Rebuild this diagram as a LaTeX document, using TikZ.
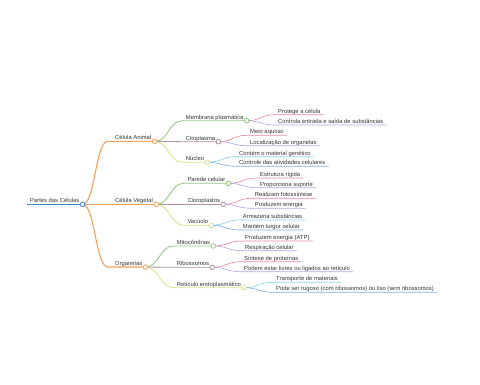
\documentclass[tikz,border=0pt]{standalone}
\usepackage{fontspec}
\setmainfont{Liberation Sans}
\usetikzlibrary{calc}
\definecolor{cblue}{HTML}{3D85C6}
\definecolor{corange}{HTML}{F5A05A}
\definecolor{cgreen}{HTML}{8DC97E}
\definecolor{cmauve}{HTML}{B0919F}
\definecolor{cyell}{HTML}{D4E28A}
\definecolor{cpink}{HTML}{E88A98}
\definecolor{clav}{HTML}{B4A8E8}
\definecolor{ccyan}{HTML}{86D4E8}
\definecolor{cblu}{HTML}{78B4E6}
\definecolor{ctext}{HTML}{333333}
\tikzset{
  lbl/.style={inner sep=0pt, anchor=base west, text=ctext, font=\fontsize{5.85}{6.5}\selectfont},
  lvone/.style={line width=1.1pt},
  lvtwo/.style={line width=0.85pt},
  lvthree/.style={line width=0.65pt},
}
% #1 name, #2 parent, #3 line start x, #4 text x, #5 line y, #6 style, #7 text
\newcommand\mmitem[7]{%
  \node[lbl] (#1) at (#4,#5-1.6) {#7};
  \coordinate (#1-s) at (#3,#5);
  \coordinate (#1-c) at ($(#1.base east)+(3,1.6)$);
  \draw[#6] let \p1=(#2-c), \p2=(#1-s) in (#2-c) .. controls ({(\x1+\x2)/2},\y1) and ({(\x1+\x2)/2},\y2) .. (#1-s) -- (#1-c);
}
\newcommand\mmdot[2]{\draw[#2, line width=0.8pt, fill=white] (#1-c) circle (2.3pt);}
\begin{document}
\begin{tikzpicture}[x=1pt,y=-1pt]
\useasboundingbox (0,0) rectangle (480,384);
% root
\node[lbl] (root) at (30,204.3-1.6) {Partes das Células};
\coordinate (root-s) at (27,204.3);
\coordinate (root-c) at ($(root.base east)+(3,1.6)$);
\draw[cblue, line width=1.3pt] (root-s) -- (root-c);
% level 1
\mmitem{ca}{root}{108}{115}{141.3}{corange,lvone}{Célula Animal}
\mmitem{cv}{root}{108}{115}{204.3}{corange,lvone}{Célula Vegetal}
\mmitem{org}{root}{108}{115}{267}{corange,lvone}{Organelas}
% level 2
\mmitem{mem}{ca}{182.5}{185.7}{120.7}{cgreen,lvtwo}{Membrana plasmática}
\mmitem{cit}{ca}{182.5}{185.7}{141.7}{cmauve,lvtwo}{Citoplasma}
\mmitem{nuc}{ca}{182.5}{185.7}{162.3}{cyell,lvtwo}{Núcleo}
\mmitem{par}{cv}{184}{187.3}{183.3}{cgreen,lvtwo}{Parede celular}
\mmitem{clo}{cv}{184}{187.3}{204.3}{cmauve,lvtwo}{Cloroplastos}
\mmitem{vac}{cv}{184}{187.3}{225.3}{cyell,lvtwo}{Vacúolo}
\mmitem{mit}{org}{173.5}{176.7}{246}{cgreen,lvtwo}{Mitocôndrias}
\mmitem{rib}{org}{173.5}{176.7}{267.3}{cmauve,lvtwo}{Ribossomos}
\mmitem{ret}{org}{173.5}{176.7}{287.7}{cyell,lvtwo}{Retículo endoplasmático}
% level 3
\mmitem{l1}{mem}{275}{278}{114.7}{cpink,lvthree}{Protege a célula}
\mmitem{l2}{mem}{275}{278}{125}{clav,lvthree}{Controla entrada e saída de substâncias}
\mmitem{l3}{cit}{247}{250}{135.3}{cpink,lvthree}{Meio aquoso}
\mmitem{l4}{cit}{247}{250}{145.7}{clav,lvthree}{Localização de organelas}
\mmitem{l5}{nuc}{236}{239}{156.7}{ccyan,lvthree}{Contém o material genético}
\mmitem{l6}{nuc}{236}{239}{166.3}{cblu,lvthree}{Controle das atividades celulares}
\mmitem{l7}{par}{257}{260}{178}{cpink,lvthree}{Estrutura rígida}
\mmitem{l8}{par}{257}{260}{187.7}{clav,lvthree}{Proporciona suporte}
\mmitem{l9}{clo}{251.7}{254.7}{198.3}{cpink,lvthree}{Realizam fotossíntese}
\mmitem{l10}{clo}{251.7}{254.7}{208.3}{clav,lvthree}{Produzem energia}
\mmitem{l11}{vac}{239.7}{242.7}{220}{ccyan,lvthree}{Armazena substâncias}
\mmitem{l12}{vac}{239.7}{242.7}{230}{cblu,lvthree}{Mantém turgor celular}
\mmitem{l13}{mit}{242}{245}{241}{cpink,lvthree}{Produzem energia (ATP)}
\mmitem{l14}{mit}{242}{245}{250.7}{clav,lvthree}{Respiração celular}
\mmitem{l15}{rib}{241}{244}{261.7}{cpink,lvthree}{Síntese de proteínas}
\mmitem{l16}{rib}{241}{244}{271.7}{clav,lvthree}{Podem estar livres ou ligados ao retículo}
\mmitem{l17}{ret}{273}{276}{282.3}{ccyan,lvthree}{Transporte de materiais}
\mmitem{l18}{ret}{273}{276}{292.3}{cblu,lvthree}{Pode ser rugoso (com ribossomos) ou liso (sem ribossomos)}
% circles
\mmdot{root}{cblue}
\mmdot{ca}{corange}
\mmdot{cv}{corange}
\mmdot{org}{corange}
\mmdot{mem}{cgreen}
\mmdot{cit}{cmauve}
\mmdot{nuc}{cyell}
\mmdot{par}{cgreen}
\mmdot{clo}{cmauve}
\mmdot{vac}{cyell}
\mmdot{mit}{cgreen}
\mmdot{rib}{cmauve}
\mmdot{ret}{cyell}
\end{tikzpicture}
\end{document}
